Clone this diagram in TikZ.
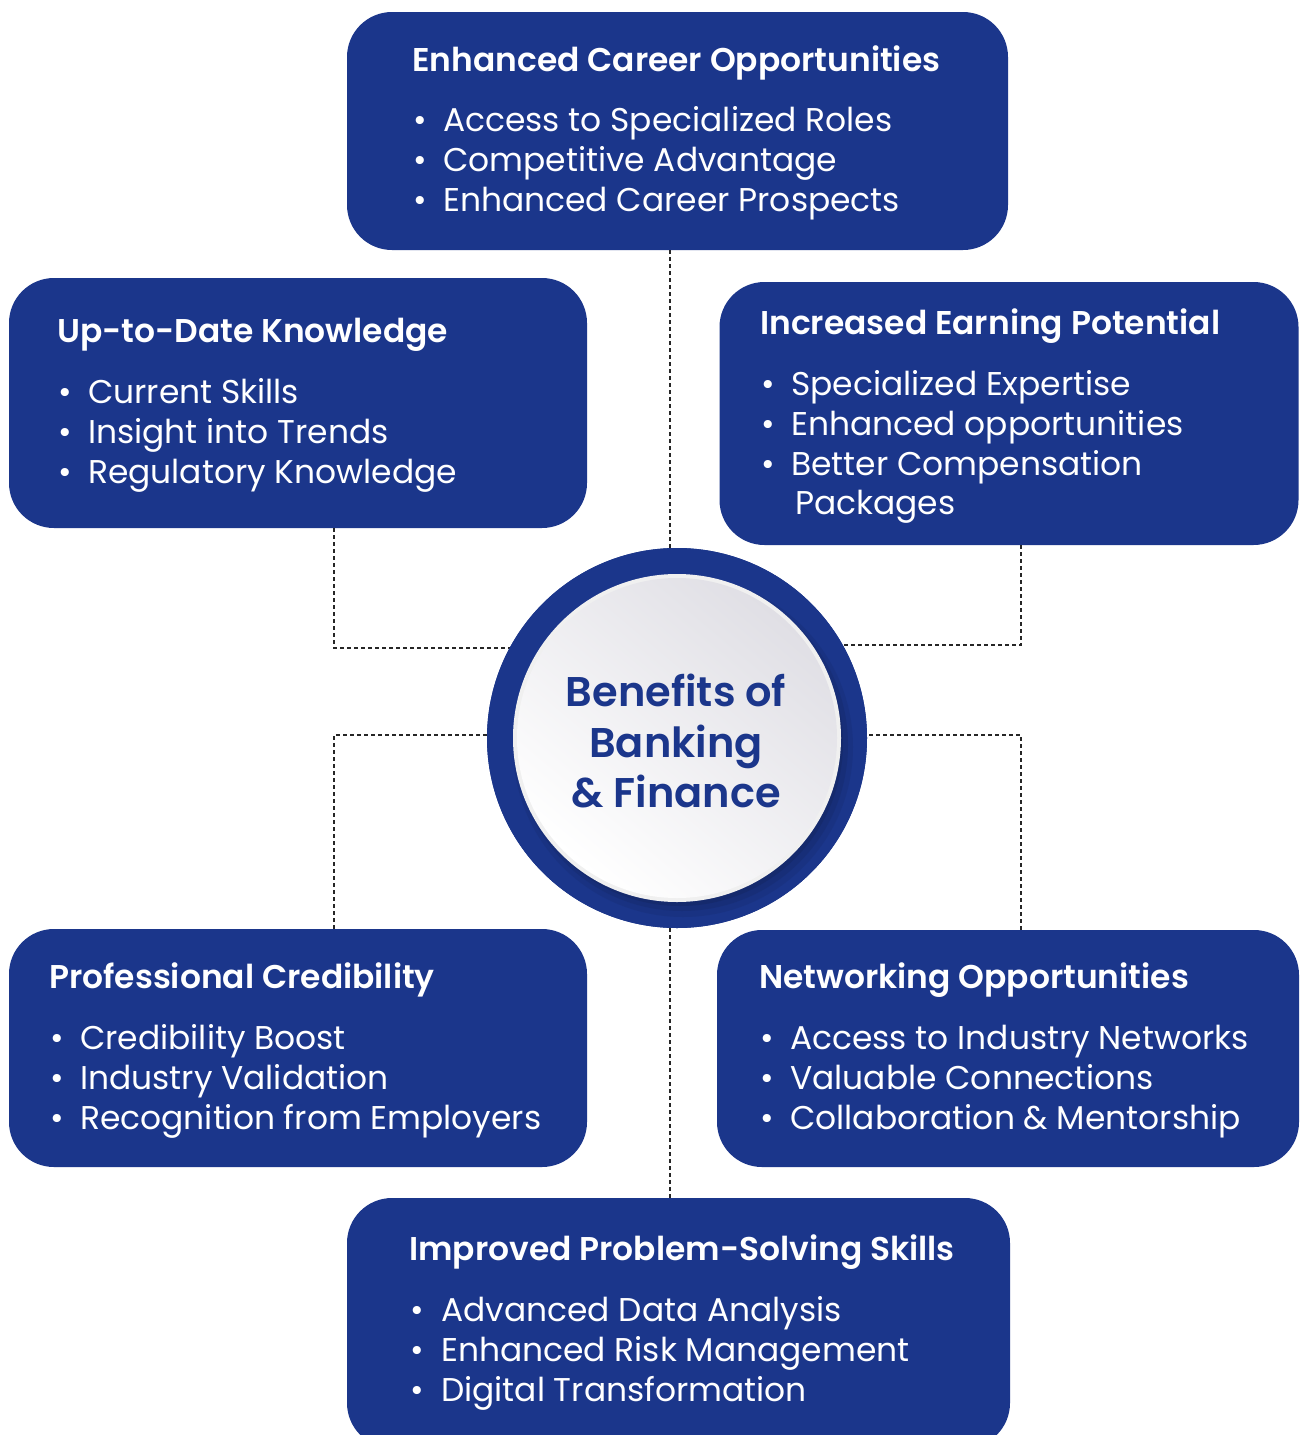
\documentclass[tikz,border=0pt]{standalone}
\usepackage{fontspec}
\setmainfont{Poppins}
\newfontfamily\semib{Poppins SemiBold}
\definecolor{nb}{HTML}{1B368B}
\definecolor{lgrey}{HTML}{E0DFE5}
\tikzset{
  panel/.style={fill=nb, rounded corners=45pt, inner sep=0pt},
  ttl/.style={anchor=base west, inner sep=0pt, text=white, font=\semib\fontsize{32.9}{38}\selectfont},
  itm/.style={anchor=base west, inner sep=0pt, text=white, font=\fontsize{32.9}{40}\selectfont},
  conn/.style={draw=black!85, line width=1.3pt, dash pattern=on 4pt off 3pt},
}
\newcommand{\itemlist}[5]{% name, bullet x, text x, first baseline, items
  \foreach \t [count=\i from 0] in {#5} {
    \node[itm] (#1b\i) at (#2, #4+40*\i) {•};
    \node[itm] (#1t\i) at (#3, #4+40*\i) {\t};
  }
}
\begin{document}
\begin{tikzpicture}[x=1pt,y=-1pt]
\useasboundingbox (0,0) rectangle (1299,1435);
\fill[white] (0,0) rectangle (1299,1435);

% panels
\node[panel, minimum width=661pt, minimum height=238pt] (top) at (677.5,131) {};
\node[panel, minimum width=578pt, minimum height=250pt] (lu) at (298,403) {};
\node[panel, minimum width=579pt, minimum height=263pt] (ru) at (1009,413.5) {};
\node[panel, minimum width=578pt, minimum height=238pt] (ll) at (298,1048) {};
\node[panel, minimum width=582pt, minimum height=237pt] (rl) at (1008,1048.5) {};
\node[panel, minimum width=663pt, minimum height=250pt] (bot) at (678.5,1323) {};

% centre circle (outer ring)
\node[circle, fill=nb, minimum size=380pt, inner sep=0pt] (circ) at (677,738) {};

% joints of connectors
\coordinate (vx) at (670,0);
\coordinate (jlu) at (334,648);
\coordinate (jru) at (1021,645);
\coordinate (jll) at (334,735);
\coordinate (jrl) at (1021,735);

% connectors (drawn, then circle redrawn over them)
\draw[conn] (top.south -| vx) -- (circ.north -| vx);
\draw[conn] (bot.north -| vx) -- (circ.south -| vx);
\draw[conn] (lu.south -| jlu) -- (jlu) -- (jlu -| circ.center);
\draw[conn] (ru.south -| jru) -- (jru) -- (jru -| circ.center);
\draw[conn] (ll.north -| jll) -- (jll) -- (jll -| circ.center);
\draw[conn] (rl.north -| jrl) -- (jrl) -- (jrl -| circ.center);

\fill[nb] (circ.center) circle (190);
% shadow of inner disc on the ring
\begin{scope}
  \clip (circ.center) circle (190);
  \fill[nb!75!black, opacity=0.25] ([shift={(6,9)}]circ.center) circle (170);
  \fill[nb!75!black, opacity=0.35] ([shift={(5,7)}]circ.center) circle (166);
  \fill[nb!70!black, opacity=0.45] ([shift={(3,5)}]circ.center) circle (163);
\end{scope}
% inner disc
\fill[white!88!gray] (circ.center) circle (164);
\shade[top color=lgrey, bottom color=white, shading angle=-40] (circ.center) circle (160);
\node[text=nb, font=\semib\fontsize{41.5}{50.5}\selectfont, align=center, inner sep=0pt] (ctext) at (676,741) {Benefits of\\Banking\\\& Finance};

% texts
\node[ttl] (topT) at (412,71) {Enhanced Career Opportunities};
\itemlist{top}{413}{443}{131}{Access to Specialized Roles,Competitive Advantage,Enhanced Career Prospects}

\node[ttl] (luT) at (57,342) {Up-to-Date Knowledge};
\itemlist{lu}{58}{88}{403}{Current Skills,Insight into Trends,Regulatory Knowledge}

\node[ttl] (ruT) at (760,334) {Increased Earning Potential};
\itemlist{ru}{761}{791}{395}{Specialized Expertise,Enhanced opportunities,Better Compensation}
\node[itm] (ruP) at (795,514) {Packages};

\node[ttl] (llT) at (49,988) {Professional Credibility};
\itemlist{ll}{50}{80}{1049}{Credibility Boost,Industry Validation,Recognition from Employers}

\node[ttl] (rlT) at (759,988) {Networking Opportunities};
\itemlist{rl}{760}{790}{1049}{Access to Industry Networks,Valuable Connections,Collaboration \& Mentorship}

\node[ttl] (botT) at (409,1260) {Improved Problem-Solving Skills};
\itemlist{bot}{410}{441}{1321}{Advanced Data Analysis,Enhanced Risk Management,Digital Transformation}
\end{tikzpicture}
\end{document}
